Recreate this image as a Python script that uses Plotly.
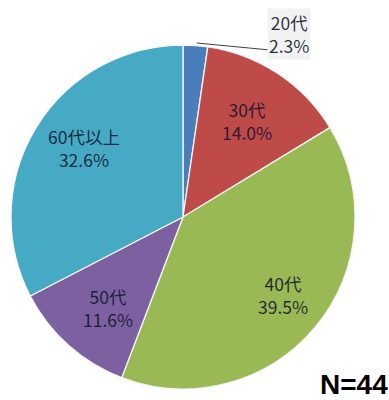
import plotly.graph_objects as go

# Age groups and their share of respondents (%)
labels = ["20代", "30代", "40代", "50代", "60代以上"]
shares = [2.3, 14.0, 39.5, 11.6, 32.6]
colors = ["#4A7EBB", "#BE4B48", "#98B954", "#7D60A0", "#46AAC5"]
sample_note = "N=44"

# Label anchor positions (paper coordinates) for each slice
label_pos = [(0.686, 0.915), (0.635, 0.6975), (0.7275, 0.2625), (0.2776, 0.23), (0.216, 0.63)]

label_font = dict(family="Noto Sans CJK JP", size=17.5, color="rgba(15,20,45,0.88)")

fig = go.Figure(
    go.Pie(
        labels=labels,
        values=shares,
        textinfo="none",
        sort=False,
        direction="clockwise",
        rotation=0,
        marker=dict(colors=colors, line=dict(color="#F4F4F4", width=1.3)),
        domain=dict(x=[0.0283, 0.9126], y=[0.0275, 0.8875]),
        showlegend=False,
        hoverinfo="label+percent",
    )
)

# Leader line from the smallest slice to its outside label
fig.add_shape(
    type="line", xref="paper", yref="paper",
    x0=0.506, y0=0.8925, x1=0.694, y1=0.875,
    line=dict(color="#404040", width=1),
)

for i, (lab, v) in enumerate(zip(labels, shares)):
    x, y = label_pos[i]
    outside = i == 0
    fig.add_annotation(
        x=x, y=y, xref="paper", yref="paper",
        text=f"{lab}<br>{v:.1f}%",
        showarrow=False,
        xanchor="left" if outside else "center",
        yanchor="middle",
        bgcolor="#F2F2F2" if outside else "rgba(0,0,0,0)",
        font=label_font,
        align="center",
    )

fig.add_annotation(
    x=0.818, y=0.04, xref="paper", yref="paper",
    text=f"<b>{sample_note}</b>", showarrow=False,
    xanchor="left", yanchor="middle",
    font=dict(family="Liberation Sans", size=28, color="#000000"),
)

fig.update_layout(
    width=389, height=400,
    margin=dict(l=0, r=0, t=0, b=0),
    paper_bgcolor="#FFFFFF",
    plot_bgcolor="#FFFFFF",
)

fig.write_html("out.html")
